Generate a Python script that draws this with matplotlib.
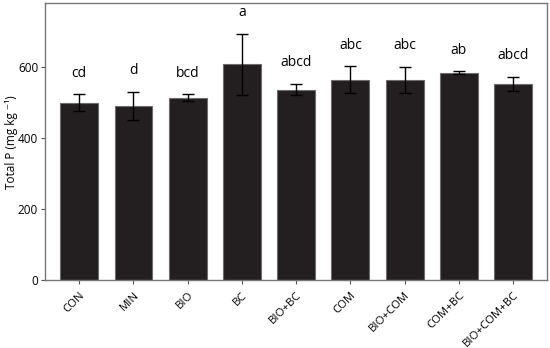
import matplotlib
matplotlib.use("Agg")
import matplotlib.pyplot as plt
import numpy as np

plt.rcParams['font.family'] = ['Open Sans', 'DejaVu Sans']

# treatments, means, errors and significance letters
treatments = ['CON', 'MIN', 'BIO', 'BC', 'BIO+BC', 'COM', 'BIO+COM', 'COM+BC', 'BIO+COM+BC']
total_p = [500, 491, 514, 608, 536, 564, 564, 584, 552]
errors = [23, 40, 9, 86, 16, 38, 36, 4, 20]
letters = ['cd', 'd', 'bcd', 'a', 'abcd', 'abc', 'abc', 'ab', 'abcd']

fig = plt.figure(figsize=(5.5, 3.48), dpi=100)
ax = fig.add_axes([0.082, 0.195, 0.913, 0.796])

x = np.arange(len(treatments))
ax.bar(x, total_p, width=0.7, color='#231f20', edgecolor='#6d6d6d', linewidth=0.8,
       yerr=errors, error_kw=dict(ecolor='black', elinewidth=1, capsize=4, capthick=1))

for xi, m, e, lab in zip(x, total_p, errors, letters):
    ax.text(xi, m + e + 60, lab, ha='center', va='center', fontsize=10)

ax.set_xlim(-0.63, len(treatments) - 0.37)
ax.set_ylim(0, 780)
ax.set_yticks([0, 200, 400, 600])
ax.set_xticks(x)
ax.set_xticklabels(treatments, rotation=45, ha='right', rotation_mode='anchor', fontsize=8.2)
ax.tick_params(axis='y', labelsize=8.5, length=3, color='#555555', pad=2)
ax.tick_params(axis='x', length=3, color='#555555', pad=4)
ax.set_ylabel('Total P (mg kg \u207b\u00b9)', fontsize=8.5, va='center')
ax.yaxis.set_label_coords(-0.066, 0.5)
for s in ax.spines.values():
    s.set_color('#777777')
    s.set_linewidth(1)

fig.savefig('out.png', dpi=100)
